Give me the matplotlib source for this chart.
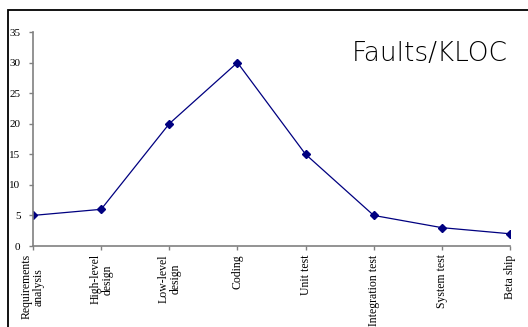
import matplotlib.pyplot as plt
from matplotlib.patches import Rectangle

# Faults per KLOC by development phase
phases = ['Requirements\nanalysis', 'High-level\ndesign', 'Low-level\ndesign', 'Coding',
          'Unit test', 'Integration test', 'System test', 'Beta ship']
faults = [5, 6, 20, 30, 15, 5, 3, 2]
yticks = [0, 5, 10, 15, 20, 25, 30, 35]

W, H = 528, 327
fig = plt.figure(figsize=(W / 100, H / 100), dpi=100)

# outer frame (top and left edges visible)
fig.patches.append(Rectangle((8 / W, -0.1), 1.2, 1 - 10 / H + 0.1, transform=fig.transFigure,
                             fill=False, edgecolor='black', linewidth=1.3))

ax = fig.add_axes([33 / W, 1 - 246 / H, (510 - 33) / W, (246 - 32) / H])
x = list(range(len(phases)))
ax.plot(x, faults, color='#000080', linewidth=0.9, marker='D', markersize=4)

ax.set_xlim(0, len(phases) - 1)
ax.set_ylim(0, 35)
ax.set_yticks(yticks)
ax.set_xticks(x)
ax.set_xticklabels(phases, rotation=90, ha='center', va='top',
                   family='Liberation Serif', fontsize=8.5, linespacing=1.0)
ax.set_yticklabels([str(v) for v in yticks], family='Liberation Serif', fontsize=8)

for side in ['top', 'right']:
    ax.spines[side].set_visible(False)
for side in ['left', 'bottom']:
    ax.spines[side].set_color('#808080')
    ax.spines[side].set_linewidth(1.2)
ax.tick_params(axis='both', colors='#808080', length=3, width=1, labelcolor='black', pad=3)
ax.tick_params(axis='y', pad=6)

ax.text(0.668, 0.9, 'Faults/KLOC', transform=ax.transAxes, fontsize=19,
        family='DejaVu Sans', weight='light', ha='left', va='center', color='black')

fig.savefig('out.png', dpi=100)
